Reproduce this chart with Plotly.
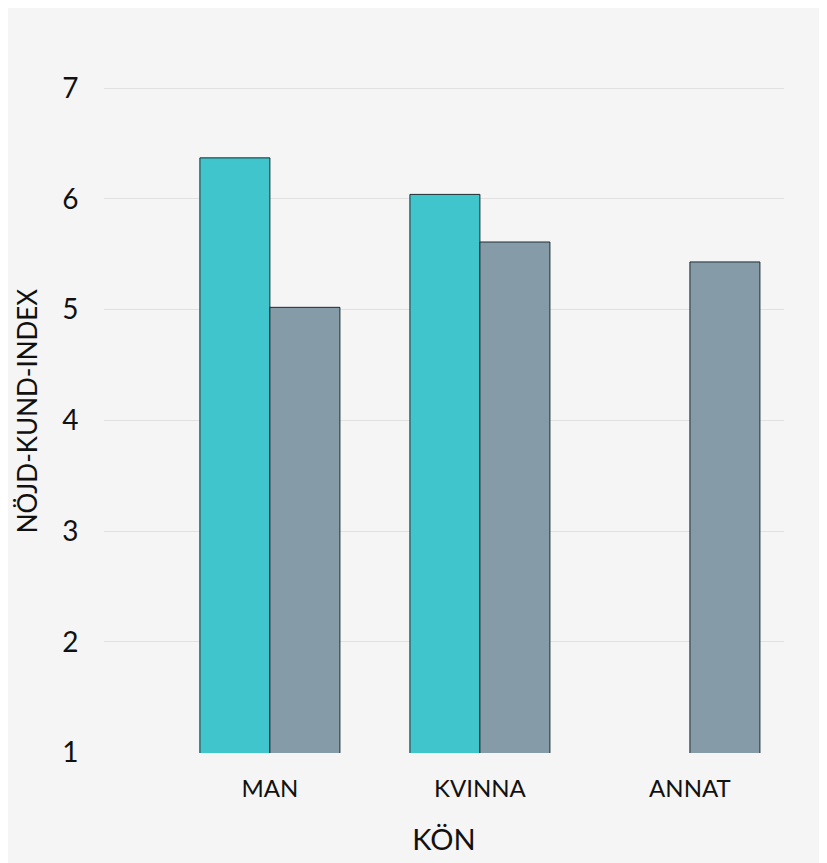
import plotly.graph_objects as go

kategorier = ["MAN", "KVINNA", "ANNAT"]
serie_a = [6.37, 6.04, None]
serie_b = [5.02, 5.61, 5.43]
y_ticks = [1, 2, 3, 4, 5, 6, 7]

font_namn = "Lato, 'Noto Sans', sans-serif"

fig = go.Figure()
fig.add_trace(go.Bar(
    x=kategorier, y=serie_a, name="A",
    marker=dict(color="#40c5cd", line=dict(color="#1e2a30", width=1)),
))
fig.add_trace(go.Bar(
    x=kategorier, y=serie_b, name="B",
    marker=dict(color="#859ca8", line=dict(color="#1e2a30", width=1)),
))

fig.update_layout(
    width=827, height=863,
    barmode="group", bargap=1/3, bargroupgap=0,
    showlegend=False,
    paper_bgcolor="#f5f5f5", plot_bgcolor="#f5f5f5",
    margin=dict(l=96, r=51, t=79, b=118),
    font=dict(family=font_namn, color="#111111"),
    xaxis=dict(
        range=[-0.79, 2.448],
        showgrid=False, zeroline=False, showline=False,
        ticks="outside", ticklen=14, tickcolor="rgba(0,0,0,0)",
        tickfont=dict(size=24),
        title=dict(text="KÖN", font=dict(size=29), standoff=28),
    ),
    yaxis=dict(
        range=[0.995, 7.01], tickvals=y_ticks,
        showgrid=True, gridcolor="#e1e1e1", gridwidth=1,
        zeroline=False, showline=False, automargin=False,
        ticks="outside", ticklen=19, tickcolor="rgba(0,0,0,0)",
        tickfont=dict(size=28),
    ),
    annotations=[dict(
        text="NÖJD-KUND-INDEX", textangle=-90, showarrow=False,
        xref="paper", yref="paper", x=0, y=0.513,
        xanchor="center", yanchor="middle", xshift=-77,
        font=dict(size=26),
    )],
)

fig.write_html("out.html")
